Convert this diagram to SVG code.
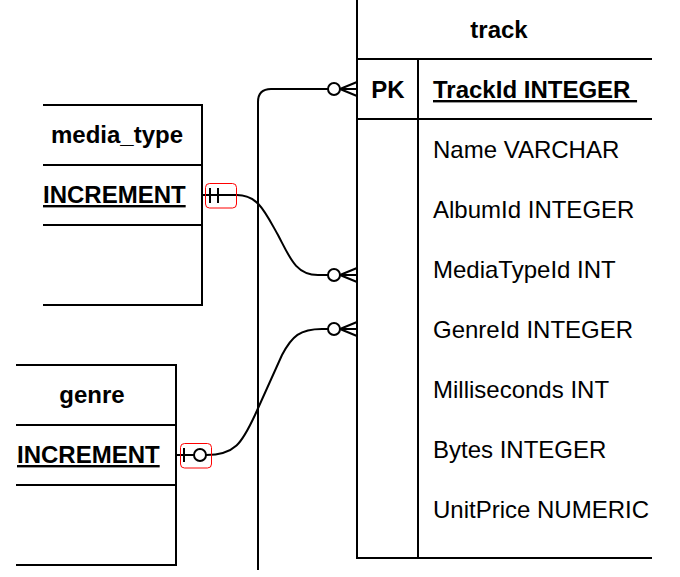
<svg xmlns="http://www.w3.org/2000/svg" width="680" height="577" viewBox="0 0 680 577">
<style>
.ln{stroke:#000;stroke-width:2;fill:none}
.t{font-family:"Liberation Sans",Arial,Helvetica,sans-serif;font-size:24px;fill:#000}
.b{font-weight:bold}
.u{text-decoration:underline}
.c{stroke:#000;stroke-width:2;fill:none}
.circ{stroke:#000;stroke-width:2;fill:#fff}
.hl{stroke:#ff0000;stroke-width:1;fill:none}
</style>
<rect width="680" height="577" fill="#fff"/>
<g id="connectors">
  <path class="c" d="M258,570 L258,102 Q258,89 271,89 L328,89"/>
  <circle class="circ" cx="334" cy="89" r="6"/>
  <path class="c" d="M340,89 L357,82 M340,89 L357,89 M340,89 L357,96"/>

  <path class="c" d="M202,195 L237,195 C258,195 265,212 278,235 C290,258 296,275 318,275 L328,275"/>
  <path class="c" d="M210,188 L210,203 M218,188 L218,203"/>
  <rect class="hl" x="205.5" y="183.5" width="31" height="24.5" rx="4"/>
  <circle class="circ" cx="334" cy="275" r="6"/>
  <path class="c" d="M340,275 L357,268 M340,275 L357,275 M340,275 L357,282"/>

  <path class="c" d="M176,455 L194,455 M206,455 C235,455 242,443 255,415 L282,355 C292,336 300,329 322,329 L328,329"/>
  <path class="c" d="M184,448 L184,462"/>
  <circle class="circ" cx="200" cy="455" r="6"/>
  <rect class="hl" x="180.5" y="443.5" width="31" height="24.5" rx="4"/>
  <circle class="circ" cx="334" cy="329" r="6"/>
  <path class="c" d="M340,329 L357,322 M340,329 L357,329 M340,329 L357,336"/>
</g>
<g id="media_type">
  <path class="ln" d="M43,105 L202,105 L202,305 L43,305 M43,165 L202,165 M43,225 L202,225"/>
  <text class="t b" x="117" y="143" text-anchor="middle">media_type</text>
  <text class="t b u" x="43" y="203">INCREMENT</text>
</g>
<g id="genre">
  <path class="ln" d="M16,365 L176,365 L176,565 L16,565 M16,425 L176,425 M16,485 L176,485"/>
  <text class="t b" x="92" y="403" text-anchor="middle">genre</text>
  <text class="t b u" x="17" y="463">INCREMENT</text>
</g>
<g id="track">
  <path class="ln" d="M357,0 L357,558 L652,558 M357,59 L652,59 M357,119 L652,119 M418,59 L418,558"/>
  <text class="t b" x="499" y="38" text-anchor="middle">track</text>
  <text class="t b" x="388" y="98" text-anchor="middle">PK</text>
  <text class="t b u" x="433" y="98" xml:space="preserve">TrackId INTEGER </text>
  <text class="t" x="433" y="158">Name VARCHAR</text>
  <text class="t" x="433" y="218">AlbumId INTEGER</text>
  <text class="t" x="433" y="278">MediaTypeId INT</text>
  <text class="t" x="433" y="338">GenreId INTEGER</text>
  <text class="t" x="433" y="398">Milliseconds INT</text>
  <text class="t" x="433" y="458">Bytes INTEGER</text>
  <text class="t" x="433" y="518">UnitPrice NUMERIC</text>
</g>
</svg>
